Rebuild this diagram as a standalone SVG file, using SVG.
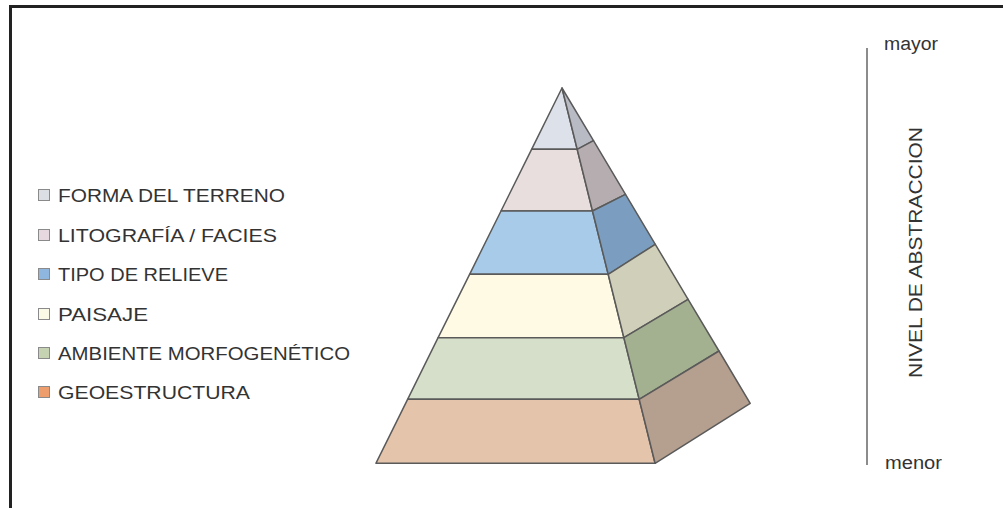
<svg xmlns="http://www.w3.org/2000/svg" width="1003" height="508" viewBox="0 0 1003 508">
<style>
  .lbl { font-family: "Liberation Sans", Arial, sans-serif; font-size: 18px; fill: #333333; }
  .face { stroke: #5a5a5a; stroke-width: 1.5; stroke-linejoin: round; }
  .sq { stroke: #8a8a8a; stroke-width: 1; }
</style>
<rect x="0" y="0" width="1003" height="508" fill="#ffffff"/>
<path d="M10.5,508 V6.5 H1003" fill="none" stroke="#222222" stroke-width="3"/>

<g id="pyramid">
  <g id="forma-del-terreno">
    <polygon class="face" fill="#dde2ea" points="562,88 577.2,149.3 531.6,149.3"/>
    <polygon class="face" fill="#b8bbc4" points="562,88 593.5,140.7 577.2,149.3"/>
  </g>
  <g id="litografia">
    <polygon class="face" fill="#e9dede" points="531.6,149.3 577.2,149.3 592.5,211 501,211"/>
    <polygon class="face" fill="#b5adaf" points="577.2,149.3 593.5,140.7 625.5,194.3 592.5,211"/>
  </g>
  <g id="tipo-de-relieve">
    <polygon class="face" fill="#a7cbe9" points="501,211 592.5,211 608.2,274.3 469.6,274.3"/>
    <polygon class="face" fill="#7b9ec0" points="592.5,211 625.5,194.3 655.3,244.3 608.2,274.3"/>
  </g>
  <g id="paisaje">
    <polygon class="face" fill="#fefae4" points="469.6,274.3 608.2,274.3 623.9,337.7 438.1,337.7"/>
    <polygon class="face" fill="#d0cfba" points="608.2,274.3 655.3,244.3 688.1,299.3 623.9,337.7"/>
  </g>
  <g id="ambiente-morfogenetico">
    <polygon class="face" fill="#d6dfc9" points="438.1,337.7 623.9,337.7 639.2,399.3 407.6,399.3"/>
    <polygon class="face" fill="#a4b191" points="623.9,337.7 688.1,299.3 719,351 639.2,399.3"/>
  </g>
  <g id="geoestructura">
    <polygon class="face" fill="#e4c4aa" points="407.6,399.3 639.2,399.3 655.1,463.3 375.9,463.3"/>
    <polygon class="face" fill="#b59f8f" points="639.2,399.3 719,351 750.2,403.3 655.1,463.3"/>
  </g>
</g>

<g id="legend">
  <g id="leg-forma">
    <rect class="sq" x="38.5" y="189.5" width="11" height="11" fill="#dcdee5"/>
    <text class="lbl" x="58" y="201.5" textLength="227" lengthAdjust="spacingAndGlyphs">FORMA DEL TERRENO</text>
  </g>
  <g id="leg-litografia">
    <rect class="sq" x="38.5" y="229.5" width="11" height="11" fill="#e6d8de"/>
    <text class="lbl" x="58" y="241.5" textLength="219" lengthAdjust="spacingAndGlyphs">LITOGRAFÍA / FACIES</text>
  </g>
  <g id="leg-tipo">
    <rect class="sq" x="38.5" y="268.5" width="11" height="11" fill="#8fb6df"/>
    <text class="lbl" x="58" y="280.5" textLength="170" lengthAdjust="spacingAndGlyphs">TIPO DE RELIEVE</text>
  </g>
  <g id="leg-paisaje">
    <rect class="sq" x="38.5" y="308.5" width="11" height="11" fill="#fbfae6"/>
    <text class="lbl" x="58" y="320.5" textLength="90" lengthAdjust="spacingAndGlyphs">PAISAJE</text>
  </g>
  <g id="leg-ambiente">
    <rect class="sq" x="38.5" y="347.5" width="11" height="11" fill="#c5d3b2"/>
    <text class="lbl" x="58" y="359.5" textLength="292" lengthAdjust="spacingAndGlyphs">AMBIENTE MORFOGENÉTICO</text>
  </g>
  <g id="leg-geo">
    <rect class="sq" x="38.5" y="386.5" width="11" height="11" fill="#ee9e6c"/>
    <text class="lbl" x="58" y="398.5" textLength="192" lengthAdjust="spacingAndGlyphs">GEOESTRUCTURA</text>
  </g>
</g>

<g id="scale">
  <line x1="867" y1="48" x2="867" y2="465" stroke="#8c8c8c" stroke-width="2"/>
  <text class="lbl" x="884" y="50" font-size="17" textLength="54" lengthAdjust="spacingAndGlyphs">mayor</text>
  <text class="lbl" x="885" y="469" font-size="17" textLength="57" lengthAdjust="spacingAndGlyphs">menor</text>
  <text class="lbl" text-anchor="middle" transform="translate(922,252.5) rotate(-90)" textLength="251" lengthAdjust="spacingAndGlyphs">NIVEL DE ABSTRACCION</text>
</g>
</svg>
